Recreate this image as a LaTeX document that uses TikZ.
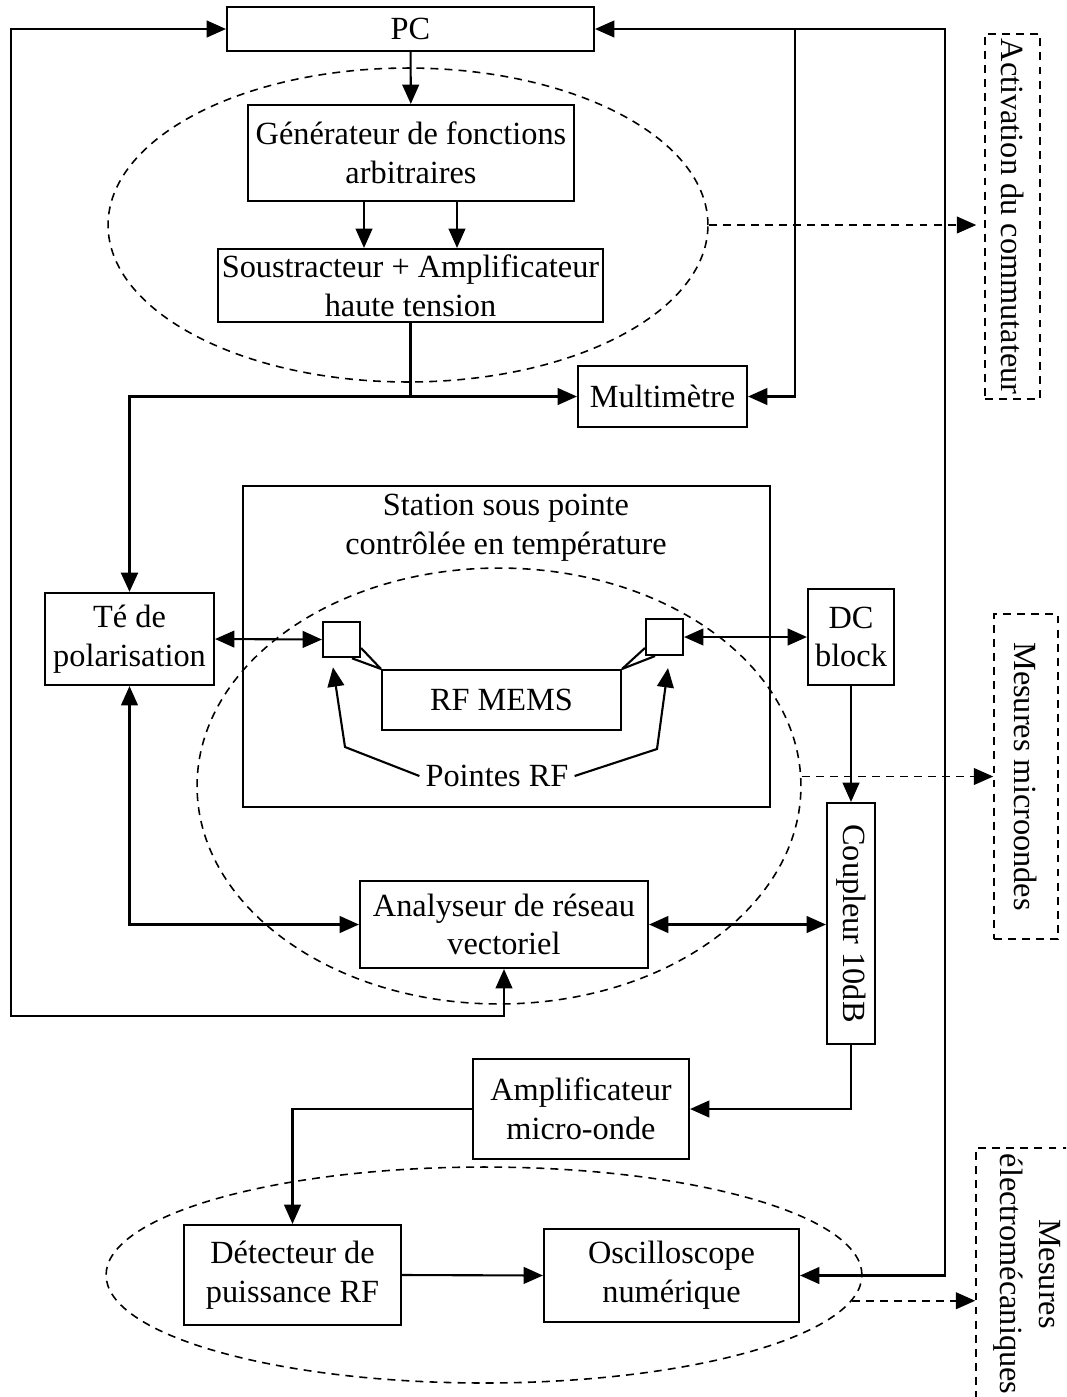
\documentclass[tikz,border=0pt]{standalone}
\usepackage{fontspec}
\setmainfont{Liberation Serif}
\usepackage{graphicx}
\usetikzlibrary{arrows.meta,shapes.geometric}
\tikzset{
    block/.style={draw, line width=1.2pt, inner sep=1pt, align=center},
    zone/.style={draw, ellipse, line width=0.9pt, dash pattern=on 4.5pt off 3.5pt, inner sep=0pt},
    result/.style={draw, line width=0.9pt, dash pattern=on 4.5pt off 3.5pt, inner sep=0pt},
    link/.style={line width=1.2pt},
    flow/.style={line width=1pt, dash pattern=on 4.5pt off 3.5pt},
}
\begin{document}
\begin{tikzpicture}[x=0.02cm, y=-0.02cm, >={Triangle[length=11pt,width=9.5pt]},
        font=\fontsize{18.4}{22}\selectfont]
        \useasboundingbox (0,0) rectangle (1066,1397);
        \clip (0,0) rectangle (1066,1397);
        %draw the dashed groups
        \node[zone, minimum width=12cm, minimum height=6.28cm] (grpA) at (408,225) {};
        \node[zone, minimum width=12.08cm, minimum height=8.72cm] (grpB) at (499,786) {};
        \node[zone, minimum width=15.12cm, minimum height=4.32cm] (grpC) at (484,1275) {};
        %draw the blocks
        \node[block, minimum width=7.34cm, minimum height=0.88cm] (PC) at (410.5,29) {PC};
        \node[block, minimum width=6.52cm, minimum height=1.92cm] (Gen) at (411,153) {Générateur de fonctions\\arbitraires};
        \node[block, minimum width=7.70cm, minimum height=1.46cm] (Sous) at (410.5,285.5) {Soustracteur + Amplificateur\\haute tension};
        \node[block, minimum width=3.38cm, minimum height=1.22cm] (Multi) at (662.5,396.5) {Multimètre};
        \node[block, minimum width=10.54cm, minimum height=6.42cm] (Station) at (506.5,646.5) {};
        \node[align=center] (stationLbl) at (506,528) {Station sous pointe\\contrôlée en température};
        \node[block, minimum width=3.38cm, minimum height=1.84cm] (Te) at (129.5,639) {Té de\\polarisation};
        \node[block, minimum width=0.74cm, minimum height=0.71cm] (sqL) at (341.5,639.5) {};
        \node[block, minimum width=0.74cm, minimum height=0.72cm] (sqR) at (664.5,637) {};
        \node[block, minimum width=4.78cm, minimum height=1.20cm] (MEMS) at (501.5,700) {RF MEMS};
        \node (pointes) at (497,776) {Pointes RF};
        \node[block, minimum width=1.72cm, minimum height=1.92cm] (DC) at (851,637) {DC\\block};
        \node[block, minimum width=0.96cm, minimum height=4.82cm] (Coupleur) at (851,923.5) {\rotatebox{-90}{Coupleur 10dB}};
        \node[block, minimum width=5.76cm, minimum height=1.74cm] (Analyseur) at (504,924.5) {Analyseur de réseau\\vectoriel};
        \node[block, minimum width=4.32cm, minimum height=2.00cm] (Ampli) at (581,1109) {Amplificateur\\micro-onde};
        \node[block, minimum width=4.34cm, minimum height=2.00cm] (Det) at (292.5,1275) {Détecteur de\\puissance RF};
        \node[block, minimum width=5.10cm, minimum height=1.86cm] (Osc) at (671.5,1275.5) {Oscilloscope\\numérique};
        %draw the dashed result boxes
        \node[result, minimum width=1.10cm, minimum height=7.30cm] (actBox) at (1012.5,216.5) {\rotatebox{-90}{Activation du commutateur}};
        \node[result, minimum width=1.28cm, minimum height=6.50cm] (mwBox) at (1026,776.5) {\rotatebox{-90}{Mesures microondes}};
        \node[result, minimum width=2.08cm, minimum height=5.04cm] (elBox) at (1028,1274) {\rotatebox{-90}{\begin{tabular}{@{}c@{}}Mesures\\électromécaniques\end{tabular}}};
        %coordinates of the buses
        \coordinate (busA) at (795,29);
        \coordinate (busB) at (945,29);
        \coordinate (loopL) at (11,29);
        \coordinate (loopB) at (11,1016);
        \coordinate (split) at (Sous.south |- Multi.west);
        \coordinate (bendL) at (345,747);
        \coordinate (bendR) at (657,749);
        %draw the links
        \draw[link, ->] (PC) -- (Gen);
        \draw[link, ->] ([xshift=-0.94cm]Gen.south) -- ([xshift=-0.94cm]Gen.south |- Sous.north);
        \draw[link, ->] ([xshift=0.92cm]Gen.south) -- ([xshift=0.92cm]Gen.south |- Sous.north);
        \draw[link] (Sous.south) -- (split);
        \draw[link, ->] (split) -- (Multi.west);
        \draw[line width=1.8pt, ->] (split) -| (Te.north);
        \draw[link, <->] (PC.east) -- (busB) |- (Osc.east);
        \draw[link, ->] (busA) |- (Multi.east);
        \draw[link, <->] (PC.west) -- (loopL) -- (loopB) -| (Analyseur.south);
        \draw[link, <->] (Te.east) -- (sqL.west);
        \draw[link, <->] (sqR.east) -- (DC.west);
        \draw[link, <->] (Te.south) |- (Analyseur.west);
        \draw[link, <->] (Analyseur.east) -- (Analyseur.east -| Coupleur.west);
        \draw[link, ->] (DC) -- (Coupleur);
        \draw[link, ->] (Coupleur.south) |- (Ampli.east);
        \draw[link, ->] (Ampli.west) -| (Det.north);
        \draw[link, ->] (Det.east) -- (Osc.west);
        %draw the probes
        \draw[link] ([yshift=-0.17cm]sqL.east) -- (MEMS.north west);
        \draw[link] ([xshift=0.21cm]sqL.south) -- (MEMS.north west);
        \draw[link] ([yshift=-0.22cm]sqR.west) -- (MEMS.north east);
        \draw[link] ([xshift=-0.19cm]sqR.south) -- (MEMS.north east);
        \draw[link, ->] (pointes.west) -- (bendL) -- ([xshift=-0.17cm,yshift=-0.18cm]sqL.south);
        \draw[link, ->] (pointes.east) -- (bendR) -- ([xshift=0.07cm,yshift=-0.24cm]sqR.south);
        %draw the dashed outputs
        \draw[flow, ->] (grpA.east) -- ([xshift=-0.16cm]grpA.east -| actBox.west);
        \draw[flow, ->] (grpB.east |- mwBox.west) -- (mwBox.west);
        \draw[flow, ->] (grpC.-4.2) -- (grpC.-4.2 -| elBox.west);
\end{tikzpicture}
\end{document}
